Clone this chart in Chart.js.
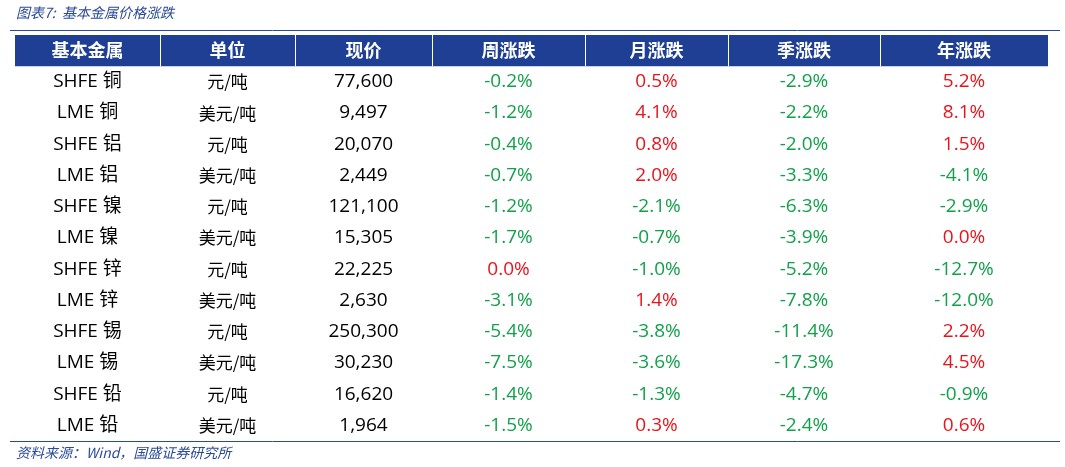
<!DOCTYPE html><html><head><meta charset="utf-8">
<script src="https://cdn.jsdelivr.net/npm/chart.js@4"></script>
<style>html,body{margin:0;padding:0;background:#fff}</style></head><body>
<canvas id="c" width="1065" height="467"></canvas>
<script>
const headers=["基本金属","单位","现价","周涨跌","月涨跌","季涨跌","年涨跌"];
const metals=["SHFE 铜","LME 铜","SHFE 铝","LME 铝","SHFE 镍","LME 镍","SHFE 锌","LME 锌","SHFE 锡","LME 锡","SHFE 铅","LME 铅"];
const units=["元/吨","美元/吨","元/吨","美元/吨","元/吨","美元/吨","元/吨","美元/吨","元/吨","美元/吨","元/吨","美元/吨"];
const prices=["77,600","9,497","20,070","2,449","121,100","15,305","22,225","2,630","250,300","30,230","16,620","1,964"];
const weekChg=[-0.2,-1.2,-0.4,-0.7,-1.2,-1.7,0.0,-3.1,-5.4,-7.5,-1.4,-1.5];
const monthChg=[0.5,4.1,0.8,2.0,-2.1,-0.7,-1.0,1.4,-3.8,-3.6,-1.3,0.3];
const quarterChg=[-2.9,-2.2,-2.0,-3.3,-6.3,-3.9,-5.2,-7.8,-11.4,-17.3,-4.7,-2.4];
const yearChg=[5.2,8.1,1.5,-4.1,-2.9,0.0,-12.7,-12.0,2.2,4.5,-0.9,0.6];

const colEdges=[0,145,280,417,570,713,865,1033];
const BLUE='#1f3f94';
const tablePlugin={id:'table',afterDraw(ch){
  const c=ch.ctx,x=ch.scales.x,y=ch.scales.y,a=ch.chartArea;
  c.save();
  c.fillStyle='#2a4a9a';c.font='italic 14px "Noto Sans CJK SC"';c.textBaseline='middle';c.textAlign='left';
  c.fillText('图表7:  基本金属价格涨跌',16,13);
  c.fillText('资料来源：Wind，国盛证券研究所',16,453);
  c.strokeStyle='#2a4a9a';c.lineWidth=1;
  c.beginPath();c.moveTo(10,30.5);c.lineTo(1060,30.5);c.stroke();
  c.beginPath();c.moveTo(10,441.5);c.lineTo(1060,441.5);c.stroke();
  const hTop=y.getPixelForValue(-0.5),hBot=y.getPixelForValue(0.5);
  c.fillStyle=BLUE;c.fillRect(a.left,hTop,a.right-a.left,hBot-hTop);
  c.strokeStyle='#fff';c.lineWidth=1;
  for(let i=1;i<colEdges.length-1;i++){const px=Math.round(x.getPixelForValue(colEdges[i]))+0.5;c.beginPath();c.moveTo(px,hTop);c.lineTo(px,hBot);c.stroke();}
  c.textAlign='center';c.fillStyle='#fff';c.font='bold 18px "Noto Sans CJK SC"';
  headers.forEach((h,i)=>c.fillText(h,x.getPixelForValue((colEdges[i]+colEdges[i+1])/2),(hTop+hBot)/2));
  const cx=i=>x.getPixelForValue((colEdges[i]+colEdges[i+1])/2);
  const pct=[weekChg,monthChg,quarterChg,yearChg];
  metals.forEach((m,r)=>{
    const py=y.getPixelForValue(r+1);
    c.fillStyle='#000';c.font='19px "Open Sans","Noto Sans CJK SC"';
    c.fillText(m,cx(0),py);
    c.font='17px "Noto Sans CJK SC"';c.fillText(units[r],cx(1),py);
    c.font='19px "Open Sans"';c.fillText(prices[r],cx(2),py);
    pct.forEach((arr,k)=>{const v=arr[r];c.fillStyle=v>=0?'#e8141c':'#12a14b';c.fillText(v.toFixed(1)+'%',cx(3+k),py);});
  });
  c.restore();
}};
new Chart(document.getElementById('c'),{type:'scatter',data:{datasets:[{data:[]}]},
 options:{responsive:false,animation:false,events:[],
  layout:{padding:{left:15,right:17,top:35,bottom:26}},
  plugins:{legend:{display:false},tooltip:{enabled:false}},
  scales:{x:{type:'linear',display:false,min:0,max:1033},
          y:{type:'linear',display:false,min:-0.5,max:12.5,reverse:true}}},
 plugins:[tablePlugin]});
</script></body></html>
